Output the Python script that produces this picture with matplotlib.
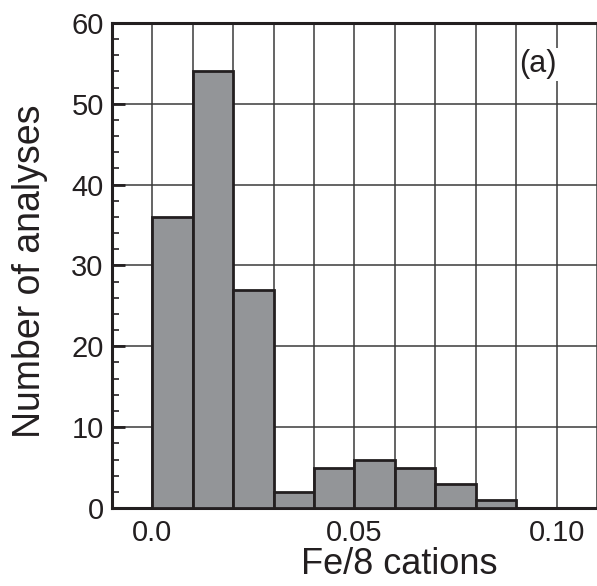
import numpy as np
import matplotlib.pyplot as plt
from matplotlib.ticker import MultipleLocator

# histogram counts, bins of width 0.01 starting at 0.0
bin_left = [0.00, 0.01, 0.02, 0.03, 0.04, 0.05, 0.06, 0.07, 0.08]
counts = [36, 54, 27, 2, 5, 6, 5, 3, 1]
bin_width = 0.01

x_ticks = [0.0, 0.05, 0.10]
x_tick_labels = ['0.0', '0.05', '0.10']

plt.rcParams['font.family'] = ['Liberation Sans', 'DejaVu Sans']

fig = plt.figure(figsize=(5.97, 5.86), dpi=100)
ax = fig.add_axes([0.1876, 0.1331, 0.8124, 0.8277])

ax.bar(bin_left, counts, width=bin_width, align='edge',
       color='#939598', edgecolor='#231f20', linewidth=2.0, zorder=3)

ax.set_xlim(-0.01, 0.11)
ax.set_ylim(0, 60)

# grid
ax.xaxis.set_minor_locator(MultipleLocator(0.01))
ax.set_xticks(x_ticks)
ax.set_xticklabels(x_tick_labels)
ax.yaxis.set_major_locator(MultipleLocator(10))
ax.yaxis.set_minor_locator(MultipleLocator(2))
ax.grid(True, which='major', axis='y', color='#3a3a3a', linewidth=1.1, zorder=1)
ax.grid(True, which='both', axis='x', color='#3a3a3a', linewidth=1.1, zorder=1)
ax.set_axisbelow(True)

ax.tick_params(axis='y', which='major', direction='in', length=9, width=2,
               labelsize=21, pad=6, colors='#231f20')
ax.tick_params(axis='y', which='minor', direction='in', length=5, width=1.2,
               colors='#231f20')
ax.tick_params(axis='x', which='both', length=0, labelsize=21, pad=8,
               colors='#231f20')

for side in ['left', 'bottom', 'top']:
    ax.spines[side].set_linewidth(2.2)
    ax.spines[side].set_color('#231f20')
ax.spines['right'].set_visible(False)

ax.set_ylabel('Number of analyses', fontsize=27, color='#231f20')
ax.set_xlabel('Fe/8 cations', fontsize=26, color='#231f20')
ax.yaxis.set_label_coords(-0.132, 0.489)
ax.xaxis.set_label_coords(0.592, -0.08)

ax.text(0.0954, 54.9, '(a)', fontsize=22, color='#231f20', ha='center', va='center',
        bbox=dict(facecolor='white', edgecolor='none', pad=1), zorder=4)

fig.savefig('out.png', dpi=100)
